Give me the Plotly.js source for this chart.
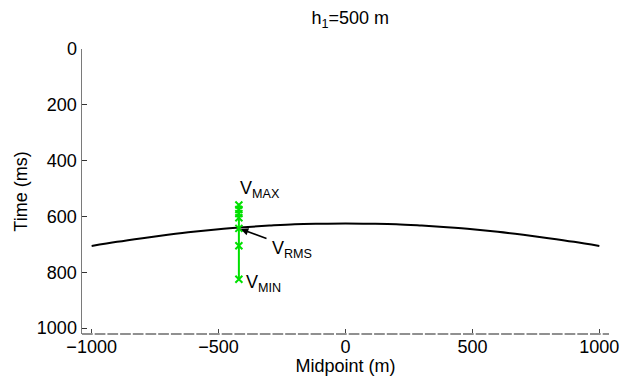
<!DOCTYPE html>
<html>
<head>
<meta charset="utf-8">
<script src="https://cdn.plot.ly/plotly-3.0.1.min.js"></script>
<style>html,body{margin:0;padding:0;background:#fff}#chart{width:637px;height:376px}</style>
</head>
<body>
<div id="chart"></div>
<script>
// Black reflection curve: midpoint (m) vs time (ms)
const curveX = [-1000,-900,-800,-700,-600,-500,-400,-300,-200,-100,0,100,200,300,400,500,600,700,800,900,1000];
const curveT = [706,691,678,666,655,646,639,633,628,626,625,626,628,633,639,646,655,666,678,691,706];

// Green velocity-scan times at one midpoint
const scanX = [-420,-420,-420,-420,-420,-420,-420];
const scanT = [559,575,590,605,643,705,825];

const xTicks = [-1000,-500,0,500,1000];
const yTicks = [0,200,400,600,800,1000];

const FONT = 'Liberation Sans, Arial, Helvetica, sans-serif';
const FS = 18;
const sub = s => '<sub>' + s + '</sub>';

const traces = [
  {x: curveX, y: curveT, type: 'scatter', mode: 'lines', line: {color: '#000', width: 2, shape: 'spline'}, hoverinfo: 'skip'},
  {x: scanX, y: scanT, type: 'scatter', mode: 'lines+markers', line: {color: '#00e000', width: 2},
   marker: {symbol: 'x-thin', size: 7, color: '#00e000', line: {color: '#00e000', width: 2}}, hoverinfo: 'skip'}
];

const layout = {
  width: 637, height: 376,
  margin: {l: 82, r: 28, t: 49, b: 42},
  paper_bgcolor: '#fff', plot_bgcolor: '#fff',
  showlegend: false,
  font: {family: FONT, size: FS, color: '#000'},
  title: {text: 'h' + sub('1') + '=500 m', font: {family: FONT, size: FS, color: '#000'},
          xref: 'container', x: 0.55, xanchor: 'center', yref: 'container', y: 0.952, yanchor: 'middle'},
  xaxis: {
    range: [-1038, 1038], tickvals: xTicks, ticktext: xTicks.map(v => v < 0 ? '\u2212' + Math.abs(v) : String(v)),
    ticks: 'inside', ticklen: 5, tickcolor: '#444', tickwidth: 1,
    showline: false, zeroline: false, showgrid: false,
    tickfont: {family: FONT, size: FS},
    title: {text: 'Midpoint (m)', font: {family: FONT, size: FS}, standoff: 0}
  },
  yaxis: {
    range: [1021.5, 0], tickvals: yTicks,
    ticks: 'inside', ticklen: 5, tickcolor: '#333', tickwidth: 1,
    showline: true, linecolor: '#7a7a7a', linewidth: 1.5, zeroline: false, showgrid: false,
    tickfont: {family: FONT, size: FS},
    title: {text: 'Time (ms)', font: {family: FONT, size: FS}, standoff: 4}
  },
  shapes: [
    {type: 'line', xref: 'x', yref: 'paper', x0: -1038, x1: 1038, y0: 0, y1: 0,
     line: {color: '#909090', width: 2, dash: '10.7px,2px'}}
  ],
  annotations: [
    {x: -420, y: 505, xref: 'x', yref: 'y', text: 'V' + sub('MAX'), showarrow: false,
     xanchor: 'left', yanchor: 'middle', xshift: -1, font: {family: FONT, size: FS}},
    {x: -420, y: 643, ax: 268, ay: 239, axref: 'pixel', ayref: 'pixel', xref: 'x', yref: 'y',
     text: '', showarrow: true, arrowhead: 2, arrowsize: 1, arrowwidth: 1.5, arrowcolor: '#000', standoff: 2},
    {x: -420, y: 650, xref: 'x', yref: 'y', text: 'V' + sub('RMS'), showarrow: false,
     xanchor: 'left', yanchor: 'top', xshift: 31, yshift: -6, font: {family: FONT, size: FS}},
    {x: -420, y: 825, xref: 'x', yref: 'y', text: 'V' + sub('MIN'), showarrow: false,
     xanchor: 'left', yanchor: 'middle', xshift: 5, yshift: -4, font: {family: FONT, size: FS}}
  ]
};

Plotly.newPlot('chart', traces, layout, {displayModeBar: false, staticPlot: true}).then(() => {
  // arrow annotation uses pixel offsets relative to the head point
  const fl = document.getElementById('chart')._fullLayout;
  const xa = fl.xaxis, ya = fl.yaxis;
  const hx = xa._offset + xa.l2p(-420), hy = ya._offset + ya.l2p(643);
  Plotly.relayout('chart', {'annotations[1].ax': 268 - hx, 'annotations[1].ay': 239 - hy,
                            'annotations[1].axref': 'pixel', 'annotations[1].ayref': 'pixel'});
});
</script>
</body>
</html>
